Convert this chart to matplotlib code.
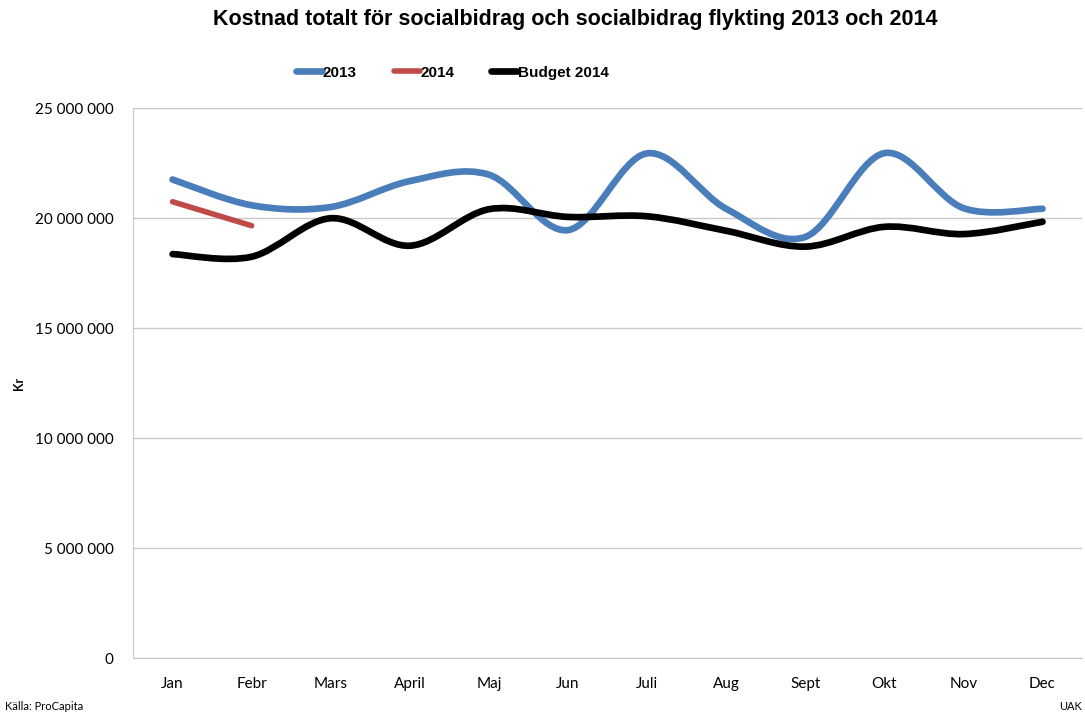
import numpy as np
import matplotlib
matplotlib.use('Agg')
import matplotlib.pyplot as plt
from matplotlib.path import Path
from matplotlib.patches import PathPatch
from matplotlib.lines import Line2D
from matplotlib.ticker import FuncFormatter, MultipleLocator

# --- data (kr) ---
months = ['Jan', 'Febr', 'Mars', 'April', 'Maj', 'Jun', 'Juli', 'Aug', 'Sept', 'Okt', 'Nov', 'Dec']
cost_2013 = [21750000, 20580000, 20500000, 21680000, 21970000, 19450000,
             22940000, 20420000, 19140000, 22950000, 20450000, 20420000]
cost_2014 = [20740000, 19650000]
budget_2014 = [18360000, 18240000, 19990000, 18740000, 20400000, 20050000,
               20080000, 19420000, 18700000, 19600000, 19270000, 19830000]

C2013 = '#4a7ebb'
C2014 = '#be4b48'
CBUD = '#000000'
GRID = '#c8c8c8'
TICKFONT = ['Lato', 'DejaVu Sans']


def smooth_path(xs, ys):
    # Excel-style smoothed line: cubic Bezier segments through each point
    pts = np.column_stack([xs, ys]).astype(float)
    verts = [pts[0]]
    codes = [Path.MOVETO]
    n = len(pts)
    for i in range(n - 1):
        p0 = pts[i - 1] if i > 0 else pts[i]
        p1 = pts[i]
        p2 = pts[i + 1]
        p3 = pts[i + 2] if i + 2 < n else pts[i + 1]
        c1 = p1 + (p2 - p0) / 6.0
        c2 = p2 - (p3 - p1) / 6.0
        verts += [c1, c2, p2]
        codes += [Path.CURVE4] * 3
    return Path(verts, codes)


fig = plt.figure(figsize=(10.85, 7.13), dpi=100)
ax = fig.add_axes([0.1226, 0.0771, 0.8747, 0.7714])

series = [(cost_2013, C2013, 4.8, '2013'),
          (cost_2014, C2014, 4.0, '2014'),
          (budget_2014, CBUD, 4.8, 'Budget 2014')]
handles = []
for vals, col, lw, lab in series:
    x = np.arange(len(vals))
    patch = PathPatch(smooth_path(x, vals), fill=False, edgecolor=col, lw=lw,
                      capstyle='round', joinstyle='round', zorder=3)
    ax.add_patch(patch)
    handles.append(Line2D([], [], color=col, lw=lw, solid_capstyle='round', label=lab))

ax.set_xlim(-0.5, len(months) - 0.5)
ax.set_ylim(0, 25000000)
ax.set_xticks(np.arange(len(months)))
ax.set_xticklabels(months)
ax.yaxis.set_major_locator(MultipleLocator(5000000))
ax.yaxis.set_major_formatter(FuncFormatter(lambda v, p: f'{int(v):,}'.replace(',', ' ')))
ax.grid(axis='y', color=GRID, lw=1)
ax.set_axisbelow(True)
for s in ['top', 'right']:
    ax.spines[s].set_visible(False)
for s in ['left', 'bottom']:
    ax.spines[s].set_color(GRID)
ax.tick_params(length=0, labelsize=11, pad=14)
for t in ax.get_xticklabels() + ax.get_yticklabels():
    t.set_fontfamily(TICKFONT)
ax.tick_params(axis='y', pad=14)
ax.set_ylabel('Kr', fontsize=9, fontweight='bold', family=TICKFONT)
ax.yaxis.set_label_coords(-0.114, 0.5)

fig.suptitle('Kostnad totalt för socialbidrag och socialbidrag flykting 2013 och 2014',
             x=0.53, y=0.972, va='center', fontsize=15.5, fontweight='bold',
             family=['Liberation Sans', 'DejaVu Sans'])

leg = fig.legend(handles=handles, loc='center', bbox_to_anchor=(0.417, 0.898), ncol=3,
                 frameon=False, handlelength=1.7, handletextpad=0.05, columnspacing=2.4,
                 prop={'family': ['Liberation Sans Narrow', 'Liberation Sans'], 'weight': 'bold', 'size': 11})

fig.text(0.005, 0.004, 'Källa: ProCapita', fontsize=8, family=TICKFONT)
fig.text(0.997, 0.004, 'UAK', fontsize=8, ha='right', family=TICKFONT)

fig.savefig('out.png', dpi=100, facecolor='white')
